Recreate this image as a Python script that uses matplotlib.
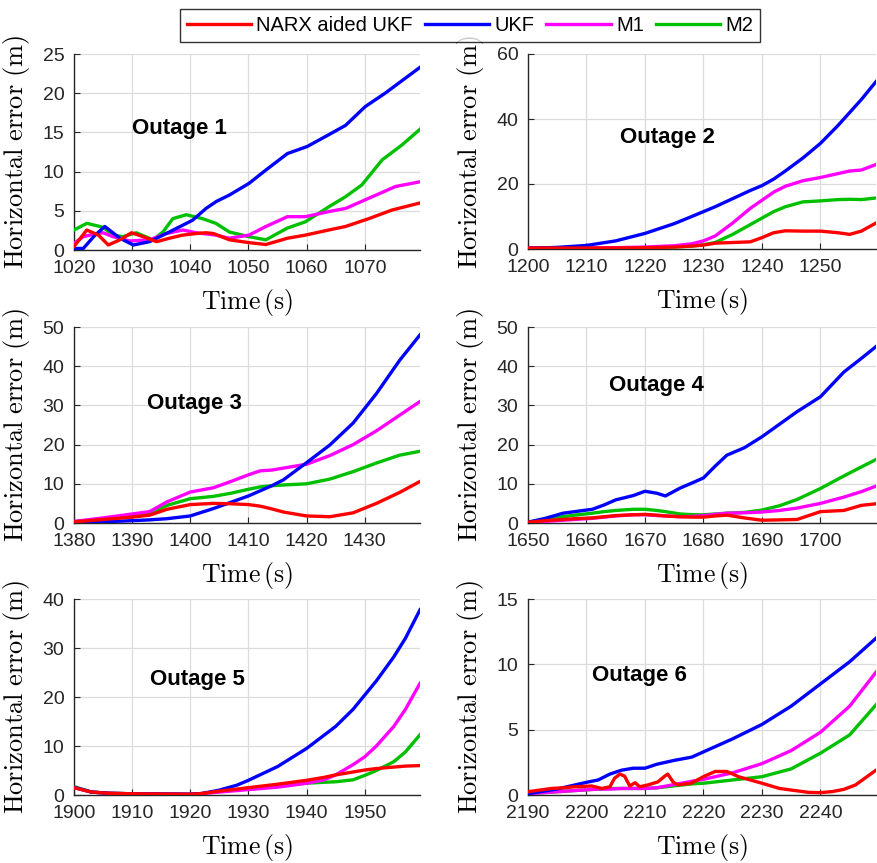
import matplotlib
matplotlib.use("Agg")
import matplotlib.pyplot as plt

# ---------------- data ----------------
series_names = ["NARX aided UKF", "UKF", "M1", "M2"]
series_colors = ["#ff0000", "#0000ff", "#ff00ff", "#00c000"]

# Outage 1
o1_narx_t = [1020, 1022.2, 1024.2, 1025.9, 1027.9, 1029.9, 1031.9, 1034.2, 1036.4, 1038.7, 1041, 1042.7, 1044,
             1046.7, 1050.1, 1053, 1056.7, 1059.8, 1063.8, 1066.7, 1070.7, 1074.7, 1079.5]
o1_narx_e = [0.45, 2.55, 1.9, 0.64, 1.3, 2.2, 1.7, 1.06, 1.5, 1.9, 2.1, 2.2, 2.1,
             1.3, 0.94, 0.7, 1.5, 1.9, 2.55, 3.0, 4.0, 5.1, 6.0]
o1_ukf_t = [1020, 1021.6, 1023.5, 1025.3, 1027.9, 1030.2, 1033, 1036.4, 1040.4, 1042.7, 1044.5, 1046.7,
            1050.1, 1053, 1056.7, 1060.1, 1063.8, 1066.7, 1070.1, 1073.5, 1079.5]
o1_ukf_e = [0.2, 0.2, 1.8, 3.0, 1.5, 0.64, 1.06, 2.3, 3.8, 5.3, 6.2, 7.0,
            8.5, 10.2, 12.3, 13.2, 14.7, 15.9, 18.3, 20.0, 23.3]
o1_m1_t = [1020, 1021.6, 1023.3, 1025, 1026.7, 1029.6, 1033, 1035.9, 1038.7, 1041, 1044.4, 1046.7,
           1050.1, 1053, 1056.7, 1059.8, 1063.8, 1066.7, 1070.7, 1075.3, 1079.5]
o1_m1_e = [0.85, 1.7, 2.0, 2.2, 1.7, 1.15, 1.3, 2.1, 2.55, 2.2, 1.9, 1.5,
           1.9, 3.0, 4.25, 4.25, 4.9, 5.3, 6.6, 8.1, 8.7]
o1_m2_t = [1020, 1022.2, 1025, 1026.7, 1028.4, 1030.7, 1033.6, 1035.3, 1037, 1039.3, 1042.1, 1044.4, 1046.7,
           1050.1, 1053, 1056.7, 1059.8, 1063.8, 1066.7, 1069.5, 1073, 1076.4, 1079.5]
o1_m2_e = [2.55, 3.4, 2.9, 1.9, 1.7, 2.2, 1.3, 2.3, 4.0, 4.5, 4.0, 3.4, 2.3,
           1.7, 1.3, 2.8, 3.6, 5.5, 6.8, 8.3, 11.5, 13.4, 15.4]

# Outage 2
o2_t = [1200, 1205, 1210, 1215, 1220, 1225, 1228, 1230, 1232, 1235, 1238, 1240, 1242, 1244, 1247, 1250,
        1253, 1255, 1257, 1259.5]
o2_ukf = [0.2, 0.5, 1.1, 2.5, 4.8, 7.8, 10.0, 11.5, 13.0, 15.5, 18.0, 19.5, 21.5, 24.0, 28.0, 32.5,
          38.0, 42.0, 46.0, 51.5]
o2_m1 = [0.3, 0.3, 0.3, 0.4, 0.6, 1.0, 1.6, 2.5, 4.0, 8.0, 12.5, 15.0, 17.5, 19.3, 21.0, 22.0,
         23.2, 24.0, 24.3, 26.0]
o2_m2 = [0.3, 0.3, 0.3, 0.3, 0.4, 0.6, 0.9, 1.3, 2.0, 4.5, 7.5, 9.5, 11.5, 13.0, 14.5, 14.8,
         15.2, 15.3, 15.2, 15.7]
o2_narx = [0.3, 0.3, 0.3, 0.3, 0.4, 0.6, 0.9, 1.2, 1.8, 2.0, 2.2, 3.5, 5.0, 5.6, 5.5, 5.5,
           5.0, 4.5, 5.5, 8.0]

# Outage 3
o3_t = [1380, 1385, 1390, 1393, 1396, 1400, 1404, 1407, 1410, 1412, 1414, 1416, 1420, 1424, 1428, 1432,
        1436, 1439.5]
o3_ukf = [0.1, 0.3, 0.6, 0.8, 1.1, 1.8, 3.7, 5.3, 6.9, 8.2, 9.5, 11.0, 15.4, 19.9, 25.5, 33.0, 41.5, 48.0]
o3_m1 = [0.4, 1.3, 2.3, 2.9, 5.4, 7.9, 9.0, 10.6, 12.3, 13.3, 13.5, 14.0, 15.0, 17.2, 20.0, 23.5, 27.5, 31.0]
o3_m2 = [0.3, 1.0, 1.8, 2.5, 4.5, 6.2, 6.8, 7.6, 8.6, 9.2, 9.5, 9.7, 10.0, 11.2, 13.1, 15.3, 17.3, 18.3]
o3_narx = [0.3, 0.9, 1.5, 2.0, 3.5, 4.7, 5.0, 4.9, 4.7, 4.3, 3.6, 2.8, 1.8, 1.6, 2.6, 5.0, 7.8, 10.6]

# Outage 4
o4_t = [1650, 1653, 1656, 1658, 1661, 1663, 1665, 1668, 1670, 1672, 1673.5, 1676, 1678.5, 1680, 1682,
        1684, 1687, 1690, 1693, 1696, 1700, 1704, 1707, 1709.5]
o4_ukf = [0.2, 1.2, 2.5, 2.9, 3.5, 4.6, 5.9, 7.0, 8.1, 7.6, 6.9, 8.9, 10.5, 11.5, 14.5,
          17.3, 19.2, 22.0, 25.2, 28.4, 32.2, 38.5, 42.0, 45.0]
o4_m1 = [0.1, 0.4, 0.7, 0.9, 1.2, 1.5, 1.8, 2.1, 2.1, 1.9, 1.8, 1.6, 1.7, 1.9, 2.2,
         2.5, 2.6, 2.8, 3.2, 3.8, 5.0, 6.6, 8.0, 9.4]
o4_m2 = [0.2, 1.0, 1.6, 2.0, 2.5, 2.9, 3.2, 3.5, 3.5, 3.2, 2.9, 2.3, 2.1, 2.1, 2.3,
         2.5, 2.7, 3.3, 4.4, 6.0, 8.8, 12.0, 14.3, 16.2]
o4_narx = [0.2, 0.6, 0.9, 1.1, 1.3, 1.6, 1.9, 2.1, 2.2, 2.0, 1.8, 1.6, 1.5, 1.5, 1.8,
           2.0, 1.3, 0.7, 0.8, 0.9, 2.9, 3.2, 4.5, 4.9]

# Outage 5
o5_t = [1900, 1903, 1906, 1910, 1915, 1920, 1922, 1925, 1928, 1930, 1935, 1940, 1943, 1945, 1948, 1950,
        1952, 1955, 1957, 1959.5]
o5_ukf = [1.6, 0.6, 0.35, 0.25, 0.2, 0.15, 0.3, 1.0, 2.0, 3.0, 5.8, 9.5, 12.2, 14.0, 17.5, 20.4,
          23.3, 28.2, 32.0, 37.8]
o5_m1 = [1.5, 0.6, 0.35, 0.25, 0.2, 0.15, 0.3, 0.6, 0.9, 1.1, 1.6, 2.4, 3.1, 4.1, 6.2, 7.8,
         10.0, 14.0, 17.5, 22.8]
o5_m2 = [1.7, 0.6, 0.35, 0.25, 0.2, 0.15, 0.3, 0.7, 1.1, 1.4, 1.9, 2.4, 2.6, 2.7, 3.1, 4.0,
         5.0, 6.8, 8.8, 12.3]
o5_narx = [1.5, 0.6, 0.35, 0.25, 0.2, 0.15, 0.3, 0.8, 1.2, 1.5, 2.2, 3.0, 3.6, 4.1, 4.7, 5.1,
           5.4, 5.7, 5.9, 6.0]

# Outage 6
o6_t = [2190, 2195, 2200, 2202, 2204, 2206, 2208, 2210, 2212, 2215, 2218, 2220, 2225, 2230, 2235, 2240,
        2245, 2249.5]
o6_ukf = [0.1, 0.46, 0.97, 1.15, 1.6, 1.9, 2.05, 2.05, 2.35, 2.65, 2.9, 3.3, 4.3, 5.4, 6.8, 8.5, 10.2, 12.0]
o6_m1 = [0.1, 0.25, 0.4, 0.45, 0.45, 0.5, 0.5, 0.5, 0.55, 0.8, 1.05, 1.2, 1.7, 2.4, 3.4, 4.8, 6.8, 9.4]
o6_m2 = [0.1, 0.25, 0.4, 0.45, 0.5, 0.5, 0.5, 0.5, 0.55, 0.7, 0.85, 0.9, 1.15, 1.4, 2.0, 3.2, 4.6, 6.9]
o6_narx_t = [2190, 2194, 2196, 2198, 2200.9, 2202.6, 2204, 2204.8, 2205.7, 2206.5, 2207.4, 2208.3, 2209.1,
             2210.5, 2212.2, 2213.4, 2213.9, 2214.8, 2215.6, 2217.9, 2220.2, 2222, 2224, 2226, 2228, 2230,
             2233, 2235, 2238, 2240, 2242, 2244, 2246, 2249.5]
o6_narx_e = [0.25, 0.5, 0.55, 0.63, 0.69, 0.5, 0.63, 1.28, 1.6, 1.45, 0.69, 0.94, 0.63,
             0.77, 1.0, 1.45, 1.6, 1.0, 0.77, 0.9, 1.45, 1.8, 1.8, 1.4, 1.15, 0.9,
             0.5, 0.38, 0.2, 0.18, 0.26, 0.43, 0.77, 1.9]

outage_labels = ["Outage 1", "Outage 2", "Outage 3", "Outage 4", "Outage 5", "Outage 6"]
x_starts = [1020, 1200, 1380, 1650, 1900, 2190]
y_maxes = [25, 60, 50, 50, 40, 15]
y_steps = [5, 20, 10, 10, 10, 5]

panels = [
    [(o1_narx_t, o1_narx_e), (o1_ukf_t, o1_ukf_e), (o1_m1_t, o1_m1_e), (o1_m2_t, o1_m2_e)],
    [(o2_t, o2_narx), (o2_t, o2_ukf), (o2_t, o2_m1), (o2_t, o2_m2)],
    [(o3_t, o3_narx), (o3_t, o3_ukf), (o3_t, o3_m1), (o3_t, o3_m2)],
    [(o4_t, o4_narx), (o4_t, o4_ukf), (o4_t, o4_m1), (o4_t, o4_m2)],
    [(o5_t, o5_narx), (o5_t, o5_ukf), (o5_t, o5_m1), (o5_t, o5_m2)],
    [(o6_narx_t, o6_narx_e), (o6_t, o6_ukf), (o6_t, o6_m1), (o6_t, o6_m2)],
]

# ---------------- layout / style ----------------
plt.rcParams["font.family"] = ["Liberation Sans", "DejaVu Sans"]
plt.rcParams["mathtext.fontset"] = "cm"

W, H = 878, 863
fig = plt.figure(figsize=(W / 100, H / 100), dpi=100)

# axes boxes in pixels: (left, top, right, bottom)
boxes = [(74, 54, 420, 250), (528, 54, 876, 249),
         (74, 327, 420, 523), (528, 327, 876, 523),
         (74, 599, 420, 795), (528, 599, 876, 795)]
label_pos = [(0.306, 0.62), (0.40, 0.574), (0.347, 0.61), (0.37, 0.70), (0.358, 0.587), (0.321, 0.61)]

handles = []
for i, (l, t, r, b) in enumerate(boxes):
    ax = fig.add_axes([l / W, 1 - b / H, (r - l) / W, (b - t) / H])
    for k, (tt, ee) in enumerate(panels[i]):
        ln, = ax.plot(tt, ee, color=series_colors[k], lw=2.4, solid_joinstyle="round",
                      label=series_names[k], zorder=3 + (3 - k) * 0.1)
        if i == 0:
            handles.append(ln)
    x0 = x_starts[i]
    ax.set_xlim(x0, x0 + 59.5)
    ax.set_ylim(0, y_maxes[i])
    ax.set_xticks(range(x0, x0 + 60, 10))
    ax.set_yticks(range(0, y_maxes[i] + 1, y_steps[i]))
    ax.grid(True, color="#dcdcdc", lw=0.9)
    ax.set_axisbelow(True)
    for s in ["top", "right"]:
        ax.spines[s].set_visible(False)
    for s in ["left", "bottom"]:
        ax.spines[s].set_color("#262626")
        ax.spines[s].set_linewidth(1.0)
    ax.tick_params(direction="in", length=4, width=0.8, colors="#262626", labelsize=14, pad=7,
                   labelcolor="#262626")
    ax.set_xlabel(r"$\mathrm{Time\,(s)}$", fontsize=18.5)
    ax.set_ylabel(r"$\mathrm{Horizontal\ error\ (m)}$", fontsize=19)
    ax.xaxis.set_label_coords(0.5, -0.19)
    ax.yaxis.set_label_coords(-42 / (r - l), 0.5)
    ax.text(label_pos[i][0], label_pos[i][1], outage_labels[i], transform=ax.transAxes,
            ha="center", va="center", fontsize=16, fontweight="bold", color="#000000")

leg = fig.legend(handles=handles, loc="center", bbox_to_anchor=(470 / W, 1 - 25.5 / H), ncol=4,
                 fontsize=14.5, frameon=True, fancybox=False, edgecolor="#000000",
                 handlelength=3.2, handletextpad=0.25, columnspacing=0.6, borderpad=0.35)
leg.get_frame().set_linewidth(1.0)
for h in leg.get_lines():
    h.set_linewidth(2.4)

fig.savefig("out.png", dpi=100)
